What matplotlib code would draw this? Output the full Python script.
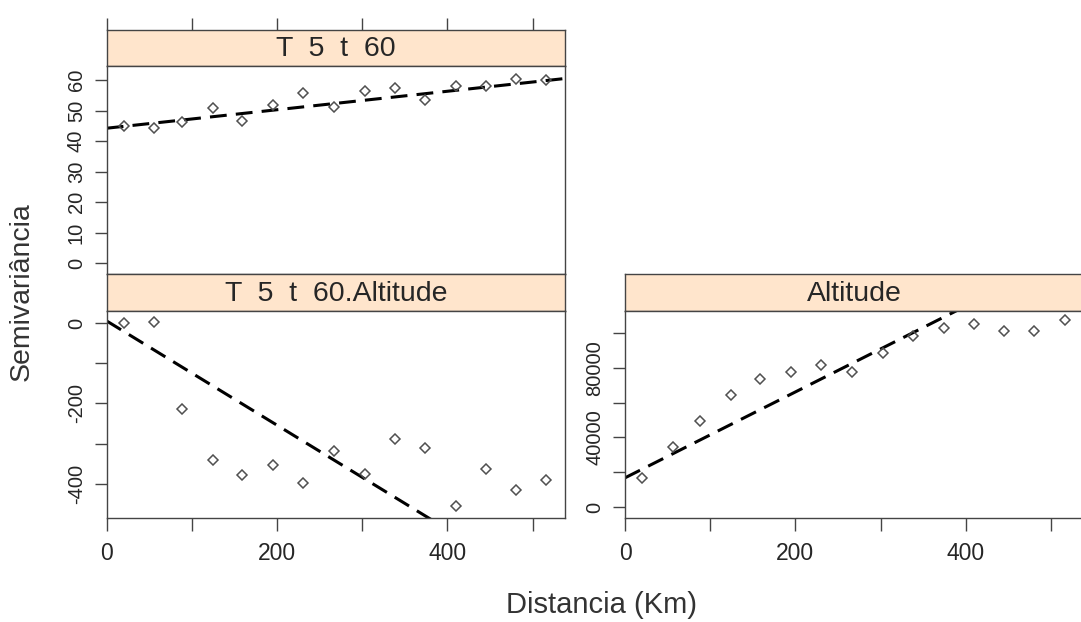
import matplotlib.pyplot as plt
import numpy as np

plt.rcParams["font.family"] = ["Liberation Sans", "DejaVu Sans"]

W, H = 1081, 622
DPI = 100

# lag distances (km), shared by the three panels
dist = [20, 56, 88, 125, 159, 195, 230, 267, 303, 338, 374, 410, 445, 480, 516]

# sample semivariances
gamma_t5 = [44.9, 44.2, 46.3, 50.7, 46.7, 51.8, 55.6, 51.3, 56.5, 57.3,
            53.4, 58.0, 58.0, 60.5, 60.0]
gamma_cross = [0, 2, -214, -341, -377, -354, -397, -319, -376, -288,
               -310, -455, -363, -416, -389]
gamma_alt = [16760, 34490, 49520, 64350, 73600, 77460, 81700, 77460, 88440,
             98070, 103080, 105390, 101150, 101150, 107320]

# fitted linear models: (intercept, slope)
model_t5 = (44.2, 0.0303)
model_cross = (5.0, -1.295)
model_alt = (16760, 246.8)

XLIM = (0, 538)
X_TICKS = [0, 100, 200, 300, 400, 500]
X_LABELS = ["0", "", "200", "", "400", ""]

STRIP_COLOR = "#FFE5CC"
EDGE = "#444444"
TEXT = "#262626"


def px_rect(x0, y0, x1, y1):
    return [x0 / W, 1 - y1 / H, (x1 - x0) / W, (y1 - y0) / H]


def style_axes(ax):
    for s in ax.spines.values():
        s.set_color(EDGE)
        s.set_linewidth(1.0)
    ax.tick_params(direction="out", length=9, width=1.0, color=EDGE,
                   labelcolor=TEXT)


def add_strip(fig, x0, y0, x1, y1, text, top_ticks=False):
    sax = fig.add_axes(px_rect(x0, y0, x1, y1))
    sax.set_facecolor(STRIP_COLOR)
    style_axes(sax)
    sax.set_xlim(*XLIM)
    sax.set_yticks([])
    if top_ticks:
        sax.xaxis.tick_top()
        sax.set_xticks(X_TICKS, [""] * len(X_TICKS))
    else:
        sax.set_xticks([])
    sax.text(0.5, 0.47, text, transform=sax.transAxes, ha="center",
             va="center", fontsize=20.5, color=TEXT)
    return sax


def add_panel(fig, x0, y0, x1, y1, x, y, model, ylim, yticks, ylabels,
              bottom_labels=True):
    ax = fig.add_axes(px_rect(x0, y0, x1, y1))
    style_axes(ax)
    xx = np.array(XLIM, dtype=float)
    ax.plot(xx, model[0] + model[1] * xx, color="black", lw=2.2,
            dashes=(5.5, 3.0), solid_capstyle="butt", zorder=2)
    ax.plot(x, y, linestyle="none", marker="D", markersize=5.4,
            markerfacecolor="none", markeredgecolor="#505050",
            markeredgewidth=1.1, zorder=3)
    ax.set_xlim(*XLIM)
    ax.set_ylim(*ylim)
    ax.set_yticks(yticks, ylabels)
    ax.tick_params(axis="y", labelrotation=90, labelsize=14.5, pad=6)
    if bottom_labels:
        ax.set_xticks(X_TICKS, X_LABELS)
        ax.tick_params(axis="x", labelsize=16.5, pad=8)
    else:
        ax.set_xticks([])
    for lab in ax.get_yticklabels():
        lab.set_verticalalignment("center")
    return ax


fig = plt.figure(figsize=(W / DPI, H / DPI), dpi=DPI)

# top-left: T 5 t 60
add_strip(fig, 106.7, 30, 565, 66, "T  5  t  60", top_ticks=True)
add_panel(fig, 106.7, 66, 565, 274, dist, gamma_t5, model_t5,
          (-3.6, 64.6), [0, 10, 20, 30, 40, 50, 60],
          ["0", "10", "20", "30", "40", "50", "60"], bottom_labels=False)

# bottom-left: cross variogram
add_strip(fig, 106.7, 274, 565, 311, "T  5  t  60.Altitude")
add_panel(fig, 106.7, 311, 565, 518, dist, gamma_cross, model_cross,
          (-484.5, 29.8), [0, -100, -200, -300, -400],
          ["0", "", "-200", "", "-400"])

# bottom-right: Altitude
add_strip(fig, 625, 274, 1083.3, 311, "Altitude")
add_panel(fig, 625, 311, 1083.3, 518, dist, gamma_alt, model_alt,
          (-6320, 112640), [0, 20000, 40000, 60000, 80000, 100000],
          ["0", "", "40000", "", "80000", ""])

fig.text(22 / W, 1 - 292 / H, "Semivariância", rotation=90, ha="center",
         va="center", fontsize=20.5, color="#333333")
fig.text(601 / W, 1 - 605 / H, "Distancia (Km)", ha="center", va="center",
         fontsize=21, color="#333333")

fig.savefig("out.png", dpi=DPI)
